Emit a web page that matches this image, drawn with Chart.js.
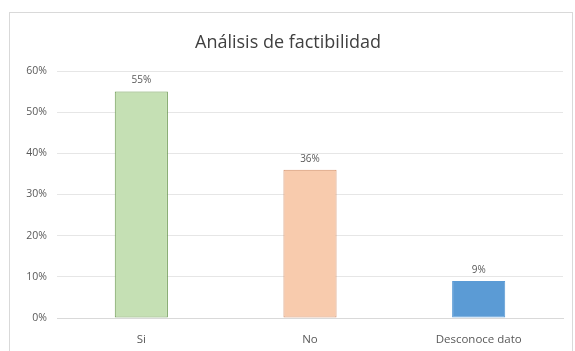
<!DOCTYPE html>
<html>
<head>
<meta charset="utf-8">
<script src="https://cdn.jsdelivr.net/npm/chart.js@4/dist/chart.umd.min.js"></script>
<style>
  html, body { margin: 0; padding: 0; background: #fff; }
  #wrap { width: 575px; height: 351px; position: relative; }
</style>
</head>
<body>
<div id="wrap"><canvas id="c" width="575" height="351"></canvas></div>
<script>
const chartTitle = 'Análisis de factibilidad';
const categories = ['Si', 'No', 'Desconoce dato'];
const percentValues = [55, 36, 9];
const yTicks = [0, 10, 20, 30, 40, 50, 60];

const fillColors = ['#C5E0B4', '#F8CBAD', '#5B9BD5'];
const edgeColors = ['#6E9A55', '#D4906A', '#5B9BD5'];
const textGray = '#595959';
const titleGray = '#404040';
const fontFamily = '"Open Sans", "Liberation Sans", sans-serif';

// Outer chart frame and title
const framePlugin = {
  id: 'frame',
  beforeDraw(chart) {
    const ctx = chart.ctx;
    ctx.save();
    ctx.fillStyle = '#fff';
    ctx.fillRect(0, 0, chart.width, chart.height);
    ctx.strokeStyle = '#D9D9D9';
    ctx.lineWidth = 1;
    ctx.strokeRect(9.5, 12.5, 563, chart.height + 10);
    ctx.fillStyle = titleGray;
    ctx.font = '18px ' + fontFamily;
    ctx.textAlign = 'center';
    ctx.textBaseline = 'middle';
    ctx.fillText(chartTitle, 288, 43);
    ctx.restore();
  }
};

// Value labels above bars
const valueLabels = {
  id: 'valueLabels',
  afterDatasetsDraw(chart) {
    const ctx = chart.ctx;
    const meta = chart.getDatasetMeta(0);
    ctx.save();
    ctx.fillStyle = textGray;
    ctx.font = '10px ' + fontFamily;
    ctx.textAlign = 'center';
    ctx.textBaseline = 'bottom';
    meta.data.forEach((bar, i) => {
      ctx.fillText(percentValues[i] + '%', bar.x, bar.y - 6);
    });
    ctx.restore();
  }
};

new Chart(document.getElementById('c'), {
  type: 'bar',
  data: {
    labels: categories,
    datasets: [{
      data: percentValues,
      backgroundColor: fillColors,
      borderColor: edgeColors,
      borderWidth: 1,
      borderSkipped: false,
      barPercentage: 0.315,
      categoryPercentage: 1
    }]
  },
  options: {
    responsive: false,
    animation: false,
    layout: { padding: { top: 71, left: 0, right: 12, bottom: 0 } },
    plugins: {
      legend: { display: false },
      title: { display: false },
      tooltip: { enabled: false }
    },
    scales: {
      x: {
        grid: { display: false },
        border: { display: true, color: '#D9D9D9' },
        ticks: { color: textGray, font: { family: fontFamily, size: 11.5 }, padding: 7 },
        afterFit(scale) { scale.height = 33; }
      },
      y: {
        min: yTicks[0],
        max: yTicks[yTicks.length - 1],
        afterBuildTicks(scale) { scale.ticks = yTicks.map(v => ({ value: v })); },
        grid: { color: '#E6E6E6', drawTicks: false },
        border: { display: false },
        ticks: {
          color: textGray,
          font: { family: fontFamily, size: 10.5 },
          padding: 10,
          callback: v => v + '%'
        },
        afterFit(scale) { scale.width = 57; }
      }
    }
  },
  plugins: [framePlugin, valueLabels]
});
</script>
</body>
</html>
